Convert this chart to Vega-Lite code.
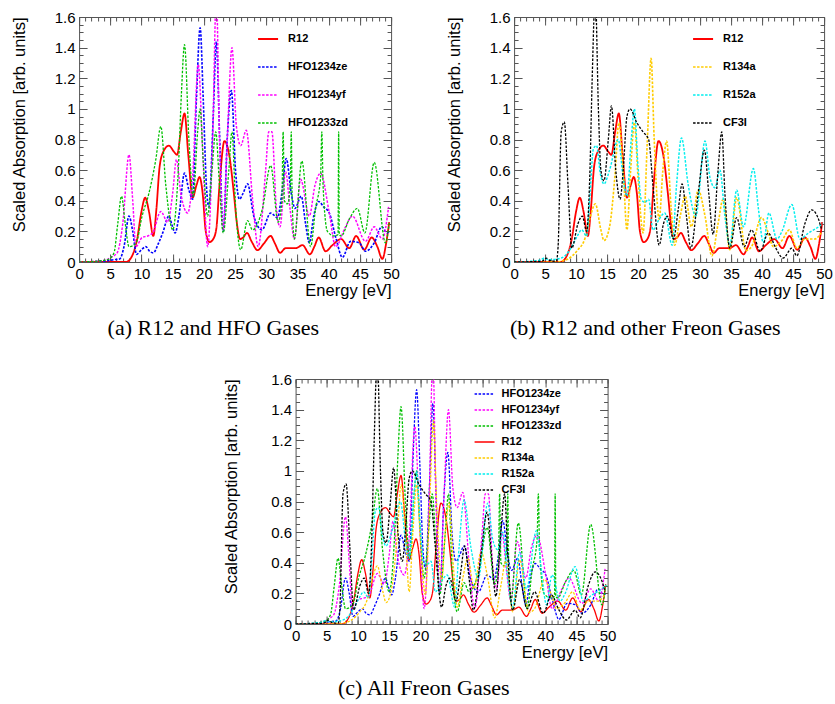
{
"$schema": "https://vega.github.io/schema/vega-lite/v6.json",
"padding": {"left": 10, "top": 9, "right": 5, "bottom": 5},
"config": {
  "view": {"stroke": "#555555", "strokeWidth": 1},
  "font": "Liberation Sans",
  "axis": {"labelFont": "Liberation Sans", "labelFontSize": 15, "labelColor": "#000000", "titleFont": "Liberation Sans", "titleFontSize": 16.5, "titleFontWeight": "normal", "titleColor": "#000000", "grid": false, "domain": false, "tickColor": "#555555", "tickWidth": 1, "labelFlush": false, "labelOverlap": false, "labelBound": false},
  "legend": {"orient": "none", "legendX": 178, "legendY": 11, "symbolType": "stroke", "symbolSize": 400, "labelFont": "Liberation Sans", "labelFontSize": 11, "labelFontWeight": "bold", "labelColor": "#000000", "rowPadding": 12, "labelOffset": 9, "padding": 0, "title": null},
  "title": {"font": "Liberation Serif", "fontSize": 22, "fontWeight": "normal", "color": "#000000"}
},
"datasets": {"d": [
{"g":"R12","E":0,"A":0},{"g":"R12","E":5,"A":0},{"g":"R12","E":7.5,"A":0},{"g":"R12","E":8.5,"A":0.04},{"g":"R12","E":9.3,"A":0.15},{"g":"R12","E":10,"A":0.33},{"g":"R12","E":10.6,"A":0.42},{"g":"R12","E":11.2,"A":0.33},{"g":"R12","E":11.9,"A":0.17},{"g":"R12","E":12.4,"A":0.35},{"g":"R12","E":12.9,"A":0.62},{"g":"R12","E":13.5,"A":0.72},{"g":"R12","E":14.4,"A":0.76},{"g":"R12","E":15.2,"A":0.72},{"g":"R12","E":15.7,"A":0.7},{"g":"R12","E":16.3,"A":0.85},{"g":"R12","E":16.9,"A":0.97},{"g":"R12","E":17.5,"A":0.7},{"g":"R12","E":18.2,"A":0.42},{"g":"R12","E":18.8,"A":0.5},{"g":"R12","E":19.3,"A":0.555},{"g":"R12","E":19.8,"A":0.45},{"g":"R12","E":20.3,"A":0.2},{"g":"R12","E":20.9,"A":0.13},{"g":"R12","E":21.5,"A":0.15},{"g":"R12","E":22,"A":0.22},{"g":"R12","E":22.5,"A":0.5},{"g":"R12","E":23.3,"A":0.79},{"g":"R12","E":24.1,"A":0.69},{"g":"R12","E":24.8,"A":0.45},{"g":"R12","E":25.3,"A":0.25},{"g":"R12","E":25.8,"A":0.15},{"g":"R12","E":26.3,"A":0.16},{"g":"R12","E":26.9,"A":0.19},{"g":"R12","E":27.7,"A":0.13},{"g":"R12","E":28.6,"A":0.077},{"g":"R12","E":29.6,"A":0.12},{"g":"R12","E":30.7,"A":0.17},{"g":"R12","E":31.4,"A":0.12},{"g":"R12","E":32.2,"A":0.06},{"g":"R12","E":33.1,"A":0.09},{"g":"R12","E":34.7,"A":0.09},{"g":"R12","E":35.8,"A":0.11},{"g":"R12","E":37,"A":0.05},{"g":"R12","E":37.7,"A":0.1},{"g":"R12","E":38.4,"A":0.16},{"g":"R12","E":39.5,"A":0.07},{"g":"R12","E":40.6,"A":0.11},{"g":"R12","E":42,"A":0.15},{"g":"R12","E":43.3,"A":0.09},{"g":"R12","E":44.4,"A":0.17},{"g":"R12","E":45.7,"A":0.08},{"g":"R12","E":46.9,"A":0.16},{"g":"R12","E":47.8,"A":0.1},{"g":"R12","E":48.6,"A":0.02},{"g":"R12","E":49.2,"A":0.12},{"g":"R12","E":49.7,"A":0.26},
{"g":"HFO1234ze","E":0,"A":0},{"g":"HFO1234ze","E":4,"A":0.005},{"g":"HFO1234ze","E":5.5,"A":0.015},{"g":"HFO1234ze","E":6.5,"A":0.02},{"g":"HFO1234ze","E":7.2,"A":0.1},{"g":"HFO1234ze","E":8,"A":0.3},{"g":"HFO1234ze","E":8.6,"A":0.2},{"g":"HFO1234ze","E":9.2,"A":0.05},{"g":"HFO1234ze","E":10,"A":0.08},{"g":"HFO1234ze","E":10.7,"A":0.1},{"g":"HFO1234ze","E":11.3,"A":0.07},{"g":"HFO1234ze","E":11.9,"A":0.06},{"g":"HFO1234ze","E":12.7,"A":0.12},{"g":"HFO1234ze","E":13.4,"A":0.19},{"g":"HFO1234ze","E":14.4,"A":0.3},{"g":"HFO1234ze","E":14.9,"A":0.24},{"g":"HFO1234ze","E":15.4,"A":0.19},{"g":"HFO1234ze","E":16,"A":0.3},{"g":"HFO1234ze","E":16.9,"A":0.58},{"g":"HFO1234ze","E":17.6,"A":0.47},{"g":"HFO1234ze","E":18.2,"A":0.41},{"g":"HFO1234ze","E":18.8,"A":1.06},{"g":"HFO1234ze","E":19.4,"A":1.53},{"g":"HFO1234ze","E":19.9,"A":1.06},{"g":"HFO1234ze","E":20.4,"A":0.5},{"g":"HFO1234ze","E":20.8,"A":0.36},{"g":"HFO1234ze","E":21.5,"A":0.95},{"g":"HFO1234ze","E":22,"A":1.44},{"g":"HFO1234ze","E":22.5,"A":0.85},{"g":"HFO1234ze","E":23.1,"A":0.2},{"g":"HFO1234ze","E":23.8,"A":0.85},{"g":"HFO1234ze","E":24.4,"A":1.12},{"g":"HFO1234ze","E":25.1,"A":0.58},{"g":"HFO1234ze","E":25.7,"A":0.41},{"g":"HFO1234ze","E":26.3,"A":0.45},{"g":"HFO1234ze","E":27,"A":0.51},{"g":"HFO1234ze","E":28,"A":0.3},{"g":"HFO1234ze","E":29.3,"A":0.21},{"g":"HFO1234ze","E":30.7,"A":0.32},{"g":"HFO1234ze","E":31.8,"A":0.29},{"g":"HFO1234ze","E":32.5,"A":0.45},{"g":"HFO1234ze","E":33.2,"A":0.675},{"g":"HFO1234ze","E":34,"A":0.45},{"g":"HFO1234ze","E":34.6,"A":0.35},{"g":"HFO1234ze","E":35.6,"A":0.43},{"g":"HFO1234ze","E":36.3,"A":0.25},{"g":"HFO1234ze","E":36.9,"A":0.125},{"g":"HFO1234ze","E":37.6,"A":0.3},{"g":"HFO1234ze","E":38.4,"A":0.395},{"g":"HFO1234ze","E":39.2,"A":0.36},{"g":"HFO1234ze","E":40.1,"A":0.32},{"g":"HFO1234ze","E":41.2,"A":0.15},{"g":"HFO1234ze","E":42.2,"A":0.03},{"g":"HFO1234ze","E":43.5,"A":0.135},{"g":"HFO1234ze","E":44.9,"A":0.125},{"g":"HFO1234ze","E":45.9,"A":0.07},{"g":"HFO1234ze","E":47.3,"A":0.125},{"g":"HFO1234ze","E":48.5,"A":0.23},{"g":"HFO1234ze","E":49.4,"A":0.19},{"g":"HFO1234ze","E":49.7,"A":0.2},
{"g":"HFO1234yf","E":0,"A":0},{"g":"HFO1234yf","E":4,"A":0.01},{"g":"HFO1234yf","E":5.1,"A":0.03},{"g":"HFO1234yf","E":6.1,"A":0.06},{"g":"HFO1234yf","E":7,"A":0.25},{"g":"HFO1234yf","E":8,"A":0.7},{"g":"HFO1234yf","E":8.6,"A":0.4},{"g":"HFO1234yf","E":9.1,"A":0.1},{"g":"HFO1234yf","E":10.1,"A":0.16},{"g":"HFO1234yf","E":11,"A":0.17},{"g":"HFO1234yf","E":11.8,"A":0.19},{"g":"HFO1234yf","E":13.1,"A":0.33},{"g":"HFO1234yf","E":14.2,"A":0.26},{"g":"HFO1234yf","E":15,"A":0.45},{"g":"HFO1234yf","E":15.6,"A":0.67},{"g":"HFO1234yf","E":16.3,"A":0.45},{"g":"HFO1234yf","E":17.4,"A":0.32},{"g":"HFO1234yf","E":18.2,"A":0.56},{"g":"HFO1234yf","E":19.1,"A":1.29},{"g":"HFO1234yf","E":19.8,"A":0.74},{"g":"HFO1234yf","E":20.6,"A":0.1},{"g":"HFO1234yf","E":21.4,"A":0.8},{"g":"HFO1234yf","E":22,"A":1.75},{"g":"HFO1234yf","E":22.5,"A":0.8},{"g":"HFO1234yf","E":23.1,"A":0.21},{"g":"HFO1234yf","E":23.8,"A":0.85},{"g":"HFO1234yf","E":24.5,"A":1.4},{"g":"HFO1234yf","E":25.2,"A":0.89},{"g":"HFO1234yf","E":25.9,"A":0.76},{"g":"HFO1234yf","E":26.8,"A":0.86},{"g":"HFO1234yf","E":27.8,"A":0.41},{"g":"HFO1234yf","E":28.7,"A":0.1},{"g":"HFO1234yf","E":29.9,"A":0.6},{"g":"HFO1234yf","E":30.4,"A":0.85},{"g":"HFO1234yf","E":30.9,"A":0.85},{"g":"HFO1234yf","E":31.6,"A":0.36},{"g":"HFO1234yf","E":32.2,"A":0.23},{"g":"HFO1234yf","E":33.1,"A":0.59},{"g":"HFO1234yf","E":33.8,"A":0.35},{"g":"HFO1234yf","E":34.5,"A":0.15},{"g":"HFO1234yf","E":35.5,"A":0.54},{"g":"HFO1234yf","E":36.9,"A":0.3},{"g":"HFO1234yf","E":37.8,"A":0.5},{"g":"HFO1234yf","E":38.7,"A":0.58},{"g":"HFO1234yf","E":40.1,"A":0.32},{"g":"HFO1234yf","E":41.1,"A":0.1},{"g":"HFO1234yf","E":42.7,"A":0.23},{"g":"HFO1234yf","E":43.8,"A":0.3},{"g":"HFO1234yf","E":45.9,"A":0.135},{"g":"HFO1234yf","E":47.3,"A":0.23},{"g":"HFO1234yf","E":48.6,"A":0.15},{"g":"HFO1234yf","E":49.6,"A":0.36},
{"g":"HFO1233zd","E":0,"A":0},{"g":"HFO1233zd","E":4,"A":0.01},{"g":"HFO1233zd","E":4.8,"A":0.02},{"g":"HFO1233zd","E":5.6,"A":0.06},{"g":"HFO1233zd","E":6.2,"A":0.25},{"g":"HFO1233zd","E":6.8,"A":0.43},{"g":"HFO1233zd","E":7.4,"A":0.25},{"g":"HFO1233zd","E":8,"A":0.1},{"g":"HFO1233zd","E":9.1,"A":0.12},{"g":"HFO1233zd","E":10.1,"A":0.3},{"g":"HFO1233zd","E":11.2,"A":0.45},{"g":"HFO1233zd","E":12.3,"A":0.67},{"g":"HFO1233zd","E":13.1,"A":0.885},{"g":"HFO1233zd","E":13.9,"A":0.5},{"g":"HFO1233zd","E":15,"A":0.21},{"g":"HFO1233zd","E":15.9,"A":0.6},{"g":"HFO1233zd","E":16.4,"A":1.1},{"g":"HFO1233zd","E":16.9,"A":1.42},{"g":"HFO1233zd","E":17.6,"A":0.8},{"g":"HFO1233zd","E":18.3,"A":0.43},{"g":"HFO1233zd","E":19,"A":0.85},{"g":"HFO1233zd","E":19.4,"A":1},{"g":"HFO1233zd","E":19.9,"A":0.65},{"g":"HFO1233zd","E":20.6,"A":0.3},{"g":"HFO1233zd","E":21.3,"A":0.6},{"g":"HFO1233zd","E":21.9,"A":0.85},{"g":"HFO1233zd","E":22.5,"A":0.5},{"g":"HFO1233zd","E":23.1,"A":0.19},{"g":"HFO1233zd","E":24,"A":0.6},{"g":"HFO1233zd","E":24.5,"A":0.85},{"g":"HFO1233zd","E":25.1,"A":0.35},{"g":"HFO1233zd","E":25.9,"A":0.08},{"g":"HFO1233zd","E":27,"A":0.27},{"g":"HFO1233zd","E":27.8,"A":0.21},{"g":"HFO1233zd","E":29.4,"A":0.35},{"g":"HFO1233zd","E":30.7,"A":0.63},{"g":"HFO1233zd","E":31.9,"A":0.26},{"g":"HFO1233zd","E":32.5,"A":0.4},{"g":"HFO1233zd","E":32.7,"A":0.85},{"g":"HFO1233zd","E":32.9,"A":0.4},{"g":"HFO1233zd","E":33.4,"A":0.38},{"g":"HFO1233zd","E":33.85,"A":0.5},{"g":"HFO1233zd","E":34,"A":0.85},{"g":"HFO1233zd","E":34.15,"A":0.4},{"g":"HFO1233zd","E":34.5,"A":0.15},{"g":"HFO1233zd","E":35.7,"A":0.66},{"g":"HFO1233zd","E":37.1,"A":0.1},{"g":"HFO1233zd","E":37.9,"A":0.35},{"g":"HFO1233zd","E":38.7,"A":0.55},{"g":"HFO1233zd","E":38.9,"A":0.85},{"g":"HFO1233zd","E":39.1,"A":0.5},{"g":"HFO1233zd","E":39.8,"A":0.2},{"g":"HFO1233zd","E":40.9,"A":0.17},{"g":"HFO1233zd","E":41.5,"A":0.18},{"g":"HFO1233zd","E":41.6,"A":0.85},{"g":"HFO1233zd","E":41.7,"A":0.18},{"g":"HFO1233zd","E":42,"A":0.17},{"g":"HFO1233zd","E":43.3,"A":0.28},{"g":"HFO1233zd","E":44.6,"A":0.35},{"g":"HFO1233zd","E":45.8,"A":0.19},{"g":"HFO1233zd","E":47.3,"A":0.65},{"g":"HFO1233zd","E":49.1,"A":0.125},{"g":"HFO1233zd","E":49.7,"A":0.255},
{"g":"R134a","E":0,"A":0},{"g":"R134a","E":7,"A":0},{"g":"R134a","E":8,"A":0.01},{"g":"R134a","E":8.7,"A":0.02},{"g":"R134a","E":10.3,"A":0.08},{"g":"R134a","E":11.4,"A":0.15},{"g":"R134a","E":12.2,"A":0.28},{"g":"R134a","E":13.1,"A":0.38},{"g":"R134a","E":14,"A":0.21},{"g":"R134a","E":14.5,"A":0.14},{"g":"R134a","E":15.4,"A":0.23},{"g":"R134a","E":16.3,"A":0.58},{"g":"R134a","E":16.9,"A":0.91},{"g":"R134a","E":17.6,"A":0.6},{"g":"R134a","E":18.2,"A":0.21},{"g":"R134a","E":18.8,"A":0.6},{"g":"R134a","E":19.4,"A":0.91},{"g":"R134a","E":20,"A":0.55},{"g":"R134a","E":20.8,"A":0.19},{"g":"R134a","E":21.5,"A":0.8},{"g":"R134a","E":22.1,"A":1.33},{"g":"R134a","E":22.6,"A":0.8},{"g":"R134a","E":23.4,"A":0.28},{"g":"R134a","E":24,"A":0.6},{"g":"R134a","E":24.6,"A":0.79},{"g":"R134a","E":25.3,"A":0.37},{"g":"R134a","E":25.9,"A":0.11},{"g":"R134a","E":26.8,"A":0.3},{"g":"R134a","E":27.6,"A":0.43},{"g":"R134a","E":28.6,"A":0.23},{"g":"R134a","E":29.7,"A":0.47},{"g":"R134a","E":30.8,"A":0.3},{"g":"R134a","E":31.9,"A":0.04},{"g":"R134a","E":32.9,"A":0.25},{"g":"R134a","E":33.7,"A":0.41},{"g":"R134a","E":34.8,"A":0.08},{"g":"R134a","E":35.9,"A":0.42},{"g":"R134a","E":37.4,"A":0.075},{"g":"R134a","E":38.3,"A":0.1},{"g":"R134a","E":39.9,"A":0.29},{"g":"R134a","E":41,"A":0.19},{"g":"R134a","E":41.8,"A":0.1},{"g":"R134a","E":43.2,"A":0.14},{"g":"R134a","E":44.4,"A":0.21},{"g":"R134a","E":45.6,"A":0.09},{"g":"R134a","E":46.9,"A":0.15},{"g":"R134a","E":48.5,"A":0.15},{"g":"R134a","E":49.5,"A":0.19},
{"g":"R152a","E":0,"A":0},{"g":"R152a","E":4,"A":0.01},{"g":"R152a","E":4.95,"A":0.025},{"g":"R152a","E":5.5,"A":0.015},{"g":"R152a","E":7,"A":0.02},{"g":"R152a","E":8.2,"A":0.04},{"g":"R152a","E":9.3,"A":0.1},{"g":"R152a","E":10.2,"A":0.17},{"g":"R152a","E":10.9,"A":0.21},{"g":"R152a","E":11.7,"A":0.17},{"g":"R152a","E":12.2,"A":0.41},{"g":"R152a","E":12.8,"A":0.74},{"g":"R152a","E":13.3,"A":0.76},{"g":"R152a","E":13.9,"A":0.58},{"g":"R152a","E":14.5,"A":0.51},{"g":"R152a","E":15.4,"A":0.6},{"g":"R152a","E":16.8,"A":0.8},{"g":"R152a","E":17.6,"A":0.55},{"g":"R152a","E":18.2,"A":0.43},{"g":"R152a","E":18.9,"A":0.8},{"g":"R152a","E":19.4,"A":1},{"g":"R152a","E":20,"A":0.62},{"g":"R152a","E":20.5,"A":0.41},{"g":"R152a","E":21.1,"A":0.39},{"g":"R152a","E":21.7,"A":0.41},{"g":"R152a","E":22.4,"A":0.21},{"g":"R152a","E":23.4,"A":0.28},{"g":"R152a","E":24.3,"A":0.32},{"g":"R152a","E":25.5,"A":0.11},{"g":"R152a","E":26.2,"A":0.5},{"g":"R152a","E":27,"A":0.81},{"g":"R152a","E":28.1,"A":0.5},{"g":"R152a","E":29.3,"A":0.3},{"g":"R152a","E":30.8,"A":0.79},{"g":"R152a","E":31.6,"A":0.55},{"g":"R152a","E":32.4,"A":0.485},{"g":"R152a","E":33.2,"A":0.6},{"g":"R152a","E":34,"A":0.3},{"g":"R152a","E":34.8,"A":0.11},{"g":"R152a","E":35.9,"A":0.47},{"g":"R152a","E":37,"A":0.23},{"g":"R152a","E":38.6,"A":0.61},{"g":"R152a","E":39.4,"A":0.35},{"g":"R152a","E":40.2,"A":0.125},{"g":"R152a","E":41.1,"A":0.32},{"g":"R152a","E":42.4,"A":0.15},{"g":"R152a","E":43.2,"A":0.2},{"g":"R152a","E":44.8,"A":0.375},{"g":"R152a","E":46.1,"A":0.15},{"g":"R152a","E":47.5,"A":0.19},{"g":"R152a","E":49.1,"A":0.23},{"g":"R152a","E":49.8,"A":0.255},
{"g":"CF3I","E":0,"A":0},{"g":"CF3I","E":4.5,"A":0.005},{"g":"CF3I","E":5.2,"A":0.025},{"g":"CF3I","E":5.8,"A":0.01},{"g":"CF3I","E":6.8,"A":0.005},{"g":"CF3I","E":7.1,"A":0.1},{"g":"CF3I","E":7.6,"A":0.85},{"g":"CF3I","E":8.1,"A":0.915},{"g":"CF3I","E":8.7,"A":0.5},{"g":"CF3I","E":9.3,"A":0.09},{"g":"CF3I","E":10.3,"A":0.25},{"g":"CF3I","E":11,"A":0.3},{"g":"CF3I","E":11.7,"A":0.2},{"g":"CF3I","E":12.2,"A":0.55},{"g":"CF3I","E":12.6,"A":1.2},{"g":"CF3I","E":13.1,"A":1.75},{"g":"CF3I","E":13.6,"A":1},{"g":"CF3I","E":14,"A":0.6},{"g":"CF3I","E":14.5,"A":0.53},{"g":"CF3I","E":15.2,"A":0.8},{"g":"CF3I","E":15.7,"A":1.02},{"g":"CF3I","E":16.4,"A":0.6},{"g":"CF3I","E":17.1,"A":0.41},{"g":"CF3I","E":17.6,"A":0.6},{"g":"CF3I","E":18.2,"A":0.95},{"g":"CF3I","E":18.7,"A":1},{"g":"CF3I","E":19.8,"A":0.91},{"g":"CF3I","E":20.8,"A":0.85},{"g":"CF3I","E":21.7,"A":0.8},{"g":"CF3I","E":22.4,"A":0.5},{"g":"CF3I","E":23.4,"A":0.11},{"g":"CF3I","E":24.1,"A":0.25},{"g":"CF3I","E":24.7,"A":0.3},{"g":"CF3I","E":25.7,"A":0.15},{"g":"CF3I","E":26.5,"A":0.35},{"g":"CF3I","E":27.1,"A":0.51},{"g":"CF3I","E":27.8,"A":0.3},{"g":"CF3I","E":28.5,"A":0.09},{"g":"CF3I","E":29.7,"A":0.45},{"g":"CF3I","E":30.7,"A":0.73},{"g":"CF3I","E":31.4,"A":0.45},{"g":"CF3I","E":32.1,"A":0.18},{"g":"CF3I","E":32.9,"A":0.6},{"g":"CF3I","E":33.5,"A":0.85},{"g":"CF3I","E":34,"A":0.45},{"g":"CF3I","E":34.8,"A":0.09},{"g":"CF3I","E":35.9,"A":0.29},{"g":"CF3I","E":37.1,"A":0.1},{"g":"CF3I","E":38.3,"A":0.21},{"g":"CF3I","E":39.7,"A":0.07},{"g":"CF3I","E":41,"A":0.19},{"g":"CF3I","E":42.1,"A":0.1},{"g":"CF3I","E":43.4,"A":0.026},{"g":"CF3I","E":44.8,"A":0.09},{"g":"CF3I","E":45.6,"A":0.04},{"g":"CF3I","E":46.9,"A":0.25},{"g":"CF3I","E":48,"A":0.34},{"g":"CF3I","E":49.1,"A":0.28},{"g":"CF3I","E":49.6,"A":0.21}
],
"k": [{"E": 0, "A": 0}]},
"vconcat": [
 {"hconcat": [
  {"width": 312, "height": 245,
   "title": {"text": "(a)  R12 and HFO Gases", "orient": "bottom", "anchor": "middle", "frame": "bounds", "offset": 19, "dx": 8},
   "layer": [
    {"data": {"name": "d"}, "transform": [{"filter": {"field": "g", "oneOf": ["R12","HFO1234ze","HFO1234yf","HFO1233zd"]}}],
     "mark": {"type": "line", "interpolate": "monotone", "clip": true},
     "encoding": {
      "x": {"field": "E", "type": "quantitative", "scale": {"domain": [0,50], "nice": false, "zero": false}, "axis": {"title": "Energy [eV]", "titleAnchor": "end", "titlePadding": 1, "values": [0,5,10,15,20,25,30,35,40,45,50], "ticks": false, "labelPadding": 4}},
      "y": {"field": "A", "type": "quantitative", "scale": {"domain": [0,1.6], "nice": false}, "axis": {"title": "Scaled Absorption [arb. units]", "titleAnchor": "end", "titlePadding": 27, "values": [0,0.2,0.4,0.6,0.8,1,1.2,1.4,1.6], "format": "~g", "ticks": false, "labelPadding": 4}},
      "color": {"field": "g", "type": "nominal", "scale": {"domain": ["R12","HFO1234ze","HFO1234yf","HFO1233zd"], "range": ["#ff0000","#0000ff","#ff00ff","#00c000"]}},
      "strokeDash": {"field": "g", "type": "nominal", "scale": {"domain": ["R12","HFO1234ze","HFO1234yf","HFO1233zd"], "range": [[1,0],[2.5,1.5],[2.5,1.5],[2.5,1.5]]}},
      "strokeWidth": {"field": "g", "type": "nominal", "scale": {"domain": ["R12","HFO1234ze","HFO1234yf","HFO1233zd"], "range": [1.8,1.3,1.3,1.3]}}
     }},
    {"data": {"name": "k"}, "mark": {"type": "point", "opacity": 0},
     "encoding": {"x": {"field": "E", "type": "quantitative", "axis": {"orient": "bottom", "title": null, "labels": false, "values": [0,5,10,15,20,25,30,35,40,45,50], "tickSize": -8}},
      "y": {"field": "A", "type": "quantitative", "axis": {"orient": "left", "title": null, "labels": false, "values": [0,0.2,0.4,0.6,0.8,1,1.2,1.4,1.6], "tickSize": -8}}}},
    {"data": {"name": "k"}, "mark": {"type": "point", "opacity": 0},
     "encoding": {"x": {"field": "E", "type": "quantitative", "axis": {"orient": "bottom", "title": null, "labels": false, "values": [0,1,2,3,4,5,6,7,8,9,10,11,12,13,14,15,16,17,18,19,20,21,22,23,24,25,26,27,28,29,30,31,32,33,34,35,36,37,38,39,40,41,42,43,44,45,46,47,48,49,50], "tickSize": -4}},
      "y": {"field": "A", "type": "quantitative", "axis": {"orient": "left", "title": null, "labels": false, "values": [0,0.05,0.1,0.15,0.2,0.25,0.3,0.35,0.4,0.45,0.5,0.55,0.6,0.65,0.7,0.75,0.8,0.85,0.9,0.95,1,1.05,1.1,1.15,1.2,1.25,1.3,1.35,1.4,1.45,1.5,1.55,1.6], "tickSize": -4}}}},
    {"data": {"name": "k"}, "mark": {"type": "point", "opacity": 0},
     "encoding": {"x": {"field": "E", "type": "quantitative", "axis": {"orient": "top", "title": null, "labels": false, "values": [0,5,10,15,20,25,30,35,40,45,50], "tickSize": -8}},
      "y": {"field": "A", "type": "quantitative", "axis": {"orient": "right", "title": null, "labels": false, "values": [0,0.2,0.4,0.6,0.8,1,1.2,1.4,1.6], "tickSize": -8}}}},
    {"data": {"name": "k"}, "mark": {"type": "point", "opacity": 0},
     "encoding": {"x": {"field": "E", "type": "quantitative", "axis": {"orient": "top", "title": null, "labels": false, "values": [0,1,2,3,4,5,6,7,8,9,10,11,12,13,14,15,16,17,18,19,20,21,22,23,24,25,26,27,28,29,30,31,32,33,34,35,36,37,38,39,40,41,42,43,44,45,46,47,48,49,50], "tickSize": -4}},
      "y": {"field": "A", "type": "quantitative", "axis": {"orient": "right", "title": null, "labels": false, "values": [0,0.05,0.1,0.15,0.2,0.25,0.3,0.35,0.4,0.45,0.5,0.55,0.6,0.65,0.7,0.75,0.8,0.85,0.9,0.95,1,1.05,1.1,1.15,1.2,1.25,1.3,1.35,1.4,1.45,1.5,1.55,1.6], "tickSize": -4}}}}
   ],
   "resolve": {"axis": {"x": "independent", "y": "independent"}}
  },
  {"width": 310, "height": 245,
   "title": {"text": "(b)  R12 and other Freon Gases", "orient": "bottom", "anchor": "middle", "frame": "bounds", "offset": 19, "dx": 6},
   "layer": [
    {"data": {"name": "d"}, "transform": [{"filter": {"field": "g", "oneOf": ["R12","R134a","R152a","CF3I"]}}],
     "mark": {"type": "line", "interpolate": "monotone", "clip": true},
     "encoding": {
      "x": {"field": "E", "type": "quantitative", "scale": {"domain": [0,50], "nice": false, "zero": false}, "axis": {"title": "Energy [eV]", "titleAnchor": "end", "titlePadding": 1, "values": [0,5,10,15,20,25,30,35,40,45,50], "ticks": false, "labelPadding": 4}},
      "y": {"field": "A", "type": "quantitative", "scale": {"domain": [0,1.6], "nice": false}, "axis": {"title": "Scaled Absorption [arb. units]", "titleAnchor": "end", "titlePadding": 27, "values": [0,0.2,0.4,0.6,0.8,1,1.2,1.4,1.6], "format": "~g", "ticks": false, "labelPadding": 4}},
      "color": {"field": "g", "type": "nominal", "scale": {"domain": ["R12","R134a","R152a","CF3I"], "range": ["#ff0000","#ffcc00","#00eeee","#000000"]}},
      "strokeDash": {"field": "g", "type": "nominal", "scale": {"domain": ["R12","R134a","R152a","CF3I"], "range": [[1,0],[2.5,1.5],[2.5,1.5],[2.5,1.5]]}},
      "strokeWidth": {"field": "g", "type": "nominal", "scale": {"domain": ["R12","R134a","R152a","CF3I"], "range": [1.8,1.3,1.3,1.3]}}
     }},
    {"data": {"name": "k"}, "mark": {"type": "point", "opacity": 0},
     "encoding": {"x": {"field": "E", "type": "quantitative", "axis": {"orient": "bottom", "title": null, "labels": false, "values": [0,5,10,15,20,25,30,35,40,45,50], "tickSize": -8}},
      "y": {"field": "A", "type": "quantitative", "axis": {"orient": "left", "title": null, "labels": false, "values": [0,0.2,0.4,0.6,0.8,1,1.2,1.4,1.6], "tickSize": -8}}}},
    {"data": {"name": "k"}, "mark": {"type": "point", "opacity": 0},
     "encoding": {"x": {"field": "E", "type": "quantitative", "axis": {"orient": "bottom", "title": null, "labels": false, "values": [0,1,2,3,4,5,6,7,8,9,10,11,12,13,14,15,16,17,18,19,20,21,22,23,24,25,26,27,28,29,30,31,32,33,34,35,36,37,38,39,40,41,42,43,44,45,46,47,48,49,50], "tickSize": -4}},
      "y": {"field": "A", "type": "quantitative", "axis": {"orient": "left", "title": null, "labels": false, "values": [0,0.05,0.1,0.15,0.2,0.25,0.3,0.35,0.4,0.45,0.5,0.55,0.6,0.65,0.7,0.75,0.8,0.85,0.9,0.95,1,1.05,1.1,1.15,1.2,1.25,1.3,1.35,1.4,1.45,1.5,1.55,1.6], "tickSize": -4}}}},
    {"data": {"name": "k"}, "mark": {"type": "point", "opacity": 0},
     "encoding": {"x": {"field": "E", "type": "quantitative", "axis": {"orient": "top", "title": null, "labels": false, "values": [0,5,10,15,20,25,30,35,40,45,50], "tickSize": -8}},
      "y": {"field": "A", "type": "quantitative", "axis": {"orient": "right", "title": null, "labels": false, "values": [0,0.2,0.4,0.6,0.8,1,1.2,1.4,1.6], "tickSize": -8}}}},
    {"data": {"name": "k"}, "mark": {"type": "point", "opacity": 0},
     "encoding": {"x": {"field": "E", "type": "quantitative", "axis": {"orient": "top", "title": null, "labels": false, "values": [0,1,2,3,4,5,6,7,8,9,10,11,12,13,14,15,16,17,18,19,20,21,22,23,24,25,26,27,28,29,30,31,32,33,34,35,36,37,38,39,40,41,42,43,44,45,46,47,48,49,50], "tickSize": -4}},
      "y": {"field": "A", "type": "quantitative", "axis": {"orient": "right", "title": null, "labels": false, "values": [0,0.05,0.1,0.15,0.2,0.25,0.3,0.35,0.4,0.45,0.5,0.55,0.6,0.65,0.7,0.75,0.8,0.85,0.9,0.95,1,1.05,1.1,1.15,1.2,1.25,1.3,1.35,1.4,1.45,1.5,1.55,1.6], "tickSize": -4}}}}
   ],
   "resolve": {"axis": {"x": "independent", "y": "independent"}}
  }
 ], "spacing": 45,
 "resolve": {"scale": {"color": "independent", "strokeDash": "independent", "strokeWidth": "independent"}}},
 {"width": 312, "height": 245,
   "title": {"text": "(c)  All Freon Gases", "orient": "bottom", "anchor": "middle", "frame": "bounds", "offset": 17, "dx": 4},
   "layer": [
    {"data": {"name": "d"},
     "mark": {"type": "line", "interpolate": "monotone", "clip": true},
     "encoding": {
      "x": {"field": "E", "type": "quantitative", "scale": {"domain": [0,50], "nice": false, "zero": false}, "axis": {"title": "Energy [eV]", "titleAnchor": "end", "titlePadding": 1, "values": [0,5,10,15,20,25,30,35,40,45,50], "ticks": false, "labelPadding": 4}},
      "y": {"field": "A", "type": "quantitative", "scale": {"domain": [0,1.6], "nice": false}, "axis": {"title": "Scaled Absorption [arb. units]", "titleAnchor": "end", "titlePadding": 31, "values": [0,0.2,0.4,0.6,0.8,1,1.2,1.4,1.6], "format": "~g", "ticks": false, "labelPadding": 4}},
      "color": {"field": "g", "type": "nominal", "scale": {"domain": ["HFO1234ze","HFO1234yf","HFO1233zd","R12","R134a","R152a","CF3I"], "range": ["#0000ff","#ff00ff","#00c000","#ff0000","#ffcc00","#00eeee","#000000"]}, "legend": {"legendY": 4, "symbolSize": 400, "rowPadding": -6, "labelOffset": 6}},
      "strokeDash": {"field": "g", "type": "nominal", "scale": {"domain": ["HFO1234ze","HFO1234yf","HFO1233zd","R12","R134a","R152a","CF3I"], "range": [[2.5,1.5],[2.5,1.5],[2.5,1.5],[1,0],[2.5,1.5],[2.5,1.5],[2.5,1.5]]}, "legend": {"legendY": 4, "symbolSize": 400, "rowPadding": -6, "labelOffset": 6}},
      "strokeWidth": {"field": "g", "type": "nominal", "scale": {"domain": ["HFO1234ze","HFO1234yf","HFO1233zd","R12","R134a","R152a","CF3I"], "range": [1.3,1.3,1.3,1.8,1.3,1.3,1.3]}, "legend": {"legendY": 4, "symbolSize": 400, "rowPadding": -6, "labelOffset": 6}}
     }},
    {"data": {"name": "k"}, "mark": {"type": "point", "opacity": 0},
     "encoding": {"x": {"field": "E", "type": "quantitative", "axis": {"orient": "bottom", "title": null, "labels": false, "values": [0,5,10,15,20,25,30,35,40,45,50], "tickSize": -8}},
      "y": {"field": "A", "type": "quantitative", "axis": {"orient": "left", "title": null, "labels": false, "values": [0,0.2,0.4,0.6,0.8,1,1.2,1.4,1.6], "tickSize": -8}}}},
    {"data": {"name": "k"}, "mark": {"type": "point", "opacity": 0},
     "encoding": {"x": {"field": "E", "type": "quantitative", "axis": {"orient": "bottom", "title": null, "labels": false, "values": [0,1,2,3,4,5,6,7,8,9,10,11,12,13,14,15,16,17,18,19,20,21,22,23,24,25,26,27,28,29,30,31,32,33,34,35,36,37,38,39,40,41,42,43,44,45,46,47,48,49,50], "tickSize": -4}},
      "y": {"field": "A", "type": "quantitative", "axis": {"orient": "left", "title": null, "labels": false, "values": [0,0.05,0.1,0.15,0.2,0.25,0.3,0.35,0.4,0.45,0.5,0.55,0.6,0.65,0.7,0.75,0.8,0.85,0.9,0.95,1,1.05,1.1,1.15,1.2,1.25,1.3,1.35,1.4,1.45,1.5,1.55,1.6], "tickSize": -4}}}},
    {"data": {"name": "k"}, "mark": {"type": "point", "opacity": 0},
     "encoding": {"x": {"field": "E", "type": "quantitative", "axis": {"orient": "top", "title": null, "labels": false, "values": [0,5,10,15,20,25,30,35,40,45,50], "tickSize": -8}},
      "y": {"field": "A", "type": "quantitative", "axis": {"orient": "right", "title": null, "labels": false, "values": [0,0.2,0.4,0.6,0.8,1,1.2,1.4,1.6], "tickSize": -8}}}},
    {"data": {"name": "k"}, "mark": {"type": "point", "opacity": 0},
     "encoding": {"x": {"field": "E", "type": "quantitative", "axis": {"orient": "top", "title": null, "labels": false, "values": [0,1,2,3,4,5,6,7,8,9,10,11,12,13,14,15,16,17,18,19,20,21,22,23,24,25,26,27,28,29,30,31,32,33,34,35,36,37,38,39,40,41,42,43,44,45,46,47,48,49,50], "tickSize": -4}},
      "y": {"field": "A", "type": "quantitative", "axis": {"orient": "right", "title": null, "labels": false, "values": [0,0.05,0.1,0.15,0.2,0.25,0.3,0.35,0.4,0.45,0.5,0.55,0.6,0.65,0.7,0.75,0.8,0.85,0.9,0.95,1,1.05,1.1,1.15,1.2,1.25,1.3,1.35,1.4,1.45,1.5,1.55,1.6], "tickSize": -4}}}}
   ],
   "resolve": {"axis": {"x": "independent", "y": "independent"}}
 }
],
"spacing": 32,
"center": true,
"resolve": {"scale": {"color": "independent", "strokeDash": "independent", "strokeWidth": "independent"}}
}
